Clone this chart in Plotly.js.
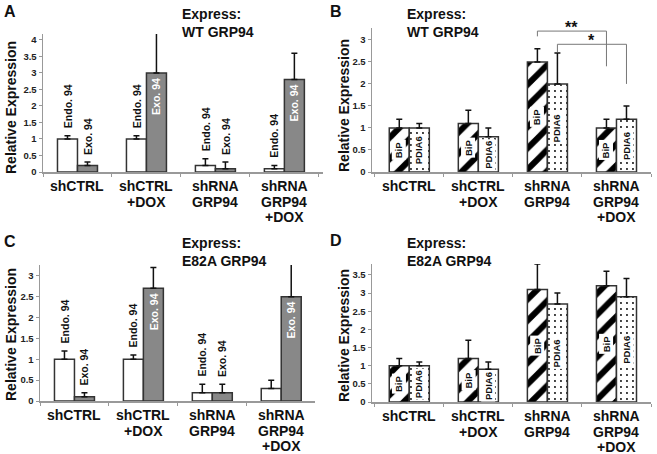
<!DOCTYPE html>
<html>
<head>
<meta charset="utf-8">
<script src="https://cdn.plot.ly/plotly-3.0.1.min.js"></script>
<style>
  html, body { margin: 0; padding: 0; background: #fff; }
  #chart { width: 657px; height: 454px; }
</style>
</head>
<body>
<div id="chart"></div>
<script>
// Categorías comunes a los cuatro paneles
const cats = ['shCTRL', 'shCTRL<br>+DOX', 'shRNA<br>GRP94', 'shRNA<br>GRP94<br>+DOX'];

// Panel A: WT GRP94, Endo/Exo 94
const aEndo = [1.0, 1.0, 0.2, 0.1];
const aEndoErr = [0.1, 0.1, 0.2, 0.1];
const aExo = [0.2, 3.0, 0.1, 2.8];
const aExoErr = [0.1, 1.2, 0.2, 0.8];
const aEndoLabels = ['Endo. 94', 'Endo. 94', 'Endo. 94', 'Endo. 94'];
const aExoLabels = ['Exo. 94', 'Exo. 94', 'Exo. 94', 'Exo. 94'];

// Panel B: WT GRP94, BiP/PDIA6
const bBip = [1.0, 1.1, 2.5, 1.0];
const bBipErr = [0.2, 0.3, 0.3, 0.2];
const bPdia6 = [1.0, 0.8, 2.0, 1.2];
const bPdia6Err = [0.1, 0.2, 0.7, 0.3];

// Significancia en B (shRNA GRP94 vs shRNA GRP94 +DOX)
const sigLabels = ['**', '*'];
const sigTop = [3.2, 2.9];
const sigLeftEnd = [3.08, 2.72];
const sigRightEnd = [2.4, 2.0];

// Panel C: E82A GRP94, Endo/Exo 94
const cEndo = [1.0, 1.0, 0.2, 0.3];
const cEndoErr = [0.2, 0.1, 0.2, 0.2];
const cExo = [0.1, 2.7, 0.2, 2.5];
const cExoErr = [0.1, 0.5, 0.2, 0.8];
const cEndoLabels = ['Endo. 94', 'Endo. 94', 'Endo. 94', ''];
const cExoLabels = ['Exo. 94', 'Exo. 94', 'Exo. 94', 'Exo. 94'];

// Panel D: E82A GRP94, BiP/PDIA6
const dBip = [1.0, 1.2, 3.1, 3.2];
const dBipErr = [0.2, 0.5, 0.7, 0.4];
const dPdia6 = [1.0, 0.9, 2.7, 2.9];
const dPdia6Err = [0.1, 0.2, 0.3, 0.5];

const W = 657, H = 454;
const FONT = 'Liberation Sans, Arial, sans-serif';
const BARGAP = 0.42;
const OFF = (1 - BARGAP) / 4; // desplazamiento del centro de cada barra

const px = v => v / W;
const py = v => 1 - v / H;

function errBar(err) {
  return {
    type: 'data', symmetric: false, array: err, arrayminus: err.map(() => 0),
    color: '#111', thickness: 1.5, width: 3
  };
}

function barTrace(y, err, ax, fill, pattern) {
  const t = {
    type: 'bar', x: cats, y: y, xaxis: 'x' + ax, yaxis: 'y' + ax,
    marker: { color: fill, line: { color: '#333', width: 1.5 } },
    error_y: errBar(err), hoverinfo: 'skip', showlegend: false
  };
  if (pattern) t.marker.pattern = pattern;
  return t;
}

const stripes = { shape: '/', bgcolor: 'white', fgcolor: 'black', size: 15, solidity: 0.4 };
const dots = { shape: '.', bgcolor: 'white', fgcolor: 'black', size: 6, solidity: 0.08 };

const data = [
  barTrace(aEndo, aEndoErr, '', 'white'),
  barTrace(aExo, aExoErr, '', '#888'),
  barTrace(bBip, bBipErr, '2', 'white', stripes),
  barTrace(bPdia6, bPdia6Err, '2', 'white', dots),
  barTrace(cEndo, cEndoErr, '3', 'white'),
  barTrace(cExo, cExoErr, '3', '#888'),
  barTrace(dBip, dBipErr, '4', 'white', stripes),
  barTrace(dPdia6, dPdia6Err, '4', 'white', dots)
];

function xAxis(x0, x1, range, anchor) {
  return {
    domain: [px(x0), px(x1)], range: range, type: 'category', anchor: anchor,
    showline: true, linecolor: '#999', linewidth: 1.5,
    ticks: 'outside', tickson: 'boundaries', ticklen: 3, tickcolor: '#999',
    showticklabels: false,
    showgrid: false, zeroline: false, fixedrange: true
  };
}
function yAxis(y0, y1, range, anchor) {
  return {
    domain: [py(y0), py(y1)], range: range, anchor: anchor, dtick: 0.5,
    showline: true, linecolor: '#999', linewidth: 1.5,
    ticks: 'outside', ticklen: 3, tickcolor: '#999',
    tickfont: { family: FONT, size: 9.5, weight: 'bold', color: '#222' },
    showgrid: false, zeroline: false, fixedrange: true
  };
}

const annotations = [];
const shapes = [];

function txt(text, x, y, opts) {
  annotations.push(Object.assign({
    text: text, x: x, y: y, xref: 'paper', yref: 'paper', showarrow: false,
    font: { family: FONT, size: 14, weight: 'bold', color: '#111' }
  }, opts));
}

// Etiquetas de categoría, línea por línea (interlineado más cerrado)
['', '2', '3', '4'].forEach(ax => {
  cats.forEach((c, i) => {
    c.split('<br>').forEach((line, j) => annotations.push({
      text: line, x: i, y: 0, xref: 'x' + ax, yref: 'y' + ax, showarrow: false,
      yanchor: 'middle', yshift: -(14 + 15.5 * j),
      font: { family: FONT, size: 14, weight: 'bold', color: '#111' }
    }));
  });
});

// Letras de panel y títulos
[['A', 10, 12], ['B', 336, 12], ['C', 10, 241], ['D', 336, 240]].forEach(([l, x, y]) =>
  txt(l, px(x), py(y), { xanchor: 'center', yanchor: 'middle', font: { family: FONT, size: 16, weight: 'bold', color: '#111' } })
);
txt('Express:<br>WT GRP94', px(180), py(4), { xanchor: 'left', yanchor: 'top', align: 'left' });
txt('Express:<br>WT GRP94', px(405), py(4), { xanchor: 'left', yanchor: 'top', align: 'left' });
txt('Express:<br>E82A GRP94', px(180), py(233), { xanchor: 'left', yanchor: 'top', align: 'left' });
txt('Express:<br>E82A GRP94', px(405), py(233), { xanchor: 'left', yanchor: 'top', align: 'left' });

// Títulos del eje Y
[[11, 108], [344, 106], [11, 335], [344, 336]].forEach(([x, y]) =>
  txt('Relative Expression', px(x), py(y), { textangle: -90, xanchor: 'center', yanchor: 'middle' })
);

// Etiquetas Endo/Exo sobre o dentro de las barras
function endoExoLabels(ax, endo, endoErr, exo, exoErr, endoLab, exoLab) {
  const base = { xref: 'x' + ax, yref: 'y' + ax, showarrow: false, textangle: -90 };
  endo.forEach((v, i) => {
    if (!endoLab[i]) return;
    annotations.push(Object.assign({}, base, {
      text: endoLab[i], x: i - OFF, y: v + endoErr[i], yanchor: 'bottom', yshift: 6,
      font: { family: FONT, size: 10.5, weight: 'bold', color: '#111' }
    }));
  });
  exo.forEach((v, i) => {
    const inside = v > 1.5;
    annotations.push(Object.assign({}, base, {
      text: exoLab[i], x: i + OFF,
      y: inside ? v : v + exoErr[i],
      yanchor: inside ? 'top' : 'bottom', yshift: inside ? -3 : 5,
      font: { family: FONT, size: 10.5, weight: 'bold', color: inside ? '#fff' : '#111' }
    }));
  });
}
endoExoLabels('', aEndo, aEndoErr, aExo, aExoErr, aEndoLabels, aExoLabels);
endoExoLabels('3', cEndo, cEndoErr, cExo, cExoErr, cEndoLabels, cExoLabels);

// Etiquetas BiP / PDIA6 en el centro de la barra
function bipLabels(ax, bip, pdia6) {
  [[bip, 'BiP', -OFF], [pdia6, 'PDIA6', OFF]].forEach(([vals, lab, off]) => {
    vals.forEach((v, i) => annotations.push({
      text: lab, x: i + off, y: v / 2, xref: 'x' + ax, yref: 'y' + ax,
      showarrow: false, textangle: -90, bgcolor: 'white', borderpad: 1,
      font: { family: FONT, size: 9.5, weight: 'bold', color: '#111' }
    }));
  });
}
bipLabels('2', bBip, bPdia6);
bipLabels('4', dBip, dPdia6);

// Corchetes de significancia en B
const sigFrom = [2 - OFF, 2 + OFF];
const sigTo = [3 - OFF, 3 + OFF];
sigLabels.forEach((lab, k) => {
  const x0 = sigFrom[k], x1 = sigTo[k];
  shapes.push({
    type: 'path', xref: 'x2', yref: 'y2',
    path: `M ${x0} ${sigLeftEnd[k]} L ${x0} ${sigTop[k]} L ${x1} ${sigTop[k]} L ${x1} ${sigRightEnd[k]}`,
    line: { color: '#777', width: 1 }
  });
  annotations.push({
    text: lab, x: (x0 + x1) / 2, y: sigTop[k], xref: 'x2', yref: 'y2', showarrow: false,
    yanchor: 'bottom', yshift: -7,
    font: { family: FONT, size: 16, weight: 'bold', color: '#111' }
  });
});

const layout = {
  width: W, height: H,
  margin: { l: 0, r: 0, t: 0, b: 0 },
  paper_bgcolor: 'white', plot_bgcolor: 'white',
  barmode: 'group', bargap: BARGAP, bargroupgap: 0,
  showlegend: false,
  font: { family: FONT, color: '#111' },
  xaxis: xAxis(43, 323, [-0.5, 3.56], 'y'),
  yaxis: yAxis(172, 34, [0, 4.18], 'x'),
  xaxis2: xAxis(372, 651, [-0.54, 3.5], 'y2'),
  yaxis2: yAxis(172, 28, [0, 3.27], 'x2'),
  xaxis3: xAxis(40, 315, [-0.5, 3.49], 'y3'),
  yaxis3: yAxis(401, 265, [0, 3.26], 'x3'),
  xaxis4: xAxis(372, 651, [-0.54, 3.5], 'y4'),
  yaxis4: yAxis(402, 264, [0, 3.8], 'x4'),
  annotations: annotations,
  shapes: shapes
};

Plotly.newPlot('chart', data, layout, { staticPlot: true, displayModeBar: false });
</script>
</body>
</html>
